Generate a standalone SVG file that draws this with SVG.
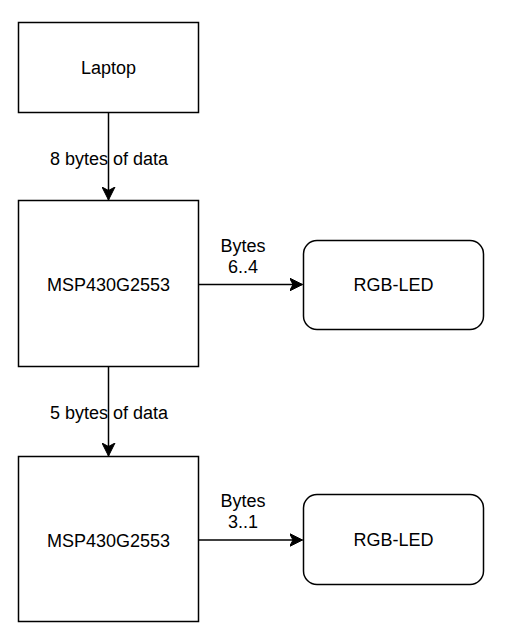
<svg xmlns="http://www.w3.org/2000/svg" width="514" height="635" viewBox="0 0 514 635">
<style>
.box{fill:#fff;stroke:#000;stroke-width:1.5}
.t{font-family:"Liberation Sans",Arial,sans-serif;font-size:18px;fill:#000;text-anchor:middle}
.ln{fill:none;stroke:#000;stroke-width:1.5}
</style>
<defs>
<marker id="arr" viewBox="0 0 14 14" refX="13" refY="7" markerWidth="14" markerHeight="14" markerUnits="userSpaceOnUse" orient="auto">
<path d="M13,7 L0,0.5 L3.5,7 L0,13.5 Z" fill="#000" stroke="#000" stroke-width="1"/>
</marker>
</defs>
<rect width="514" height="635" fill="#fff"/>
<g id="connectors">
<path class="ln" d="M108.5,112.5 L108.5,200" marker-end="url(#arr)"/>
<path class="ln" d="M198.5,284.5 L302.5,284.5" marker-end="url(#arr)"/>
<path class="ln" d="M108.5,366.5 L108.5,456" marker-end="url(#arr)"/>
<path class="ln" d="M198.5,540 L302.5,540" marker-end="url(#arr)"/>
<text class="t" x="109" y="164.5">8 bytes of data</text>
<text class="t" x="109" y="418.5">5 bytes of data</text>
<text class="t" x="243" y="251.5">Bytes</text>
<text class="t" x="243" y="273">6..4</text>
<text class="t" x="243" y="506.5">Bytes</text>
<text class="t" x="243" y="528">3..1</text>
</g>
<g id="laptop">
<rect class="box" x="18.5" y="22.5" width="180" height="90"/>
<text class="t" x="108.5" y="74">Laptop</text>
</g>
<g id="msp1">
<rect class="box" x="18.5" y="200.5" width="180" height="166"/>
<text class="t" x="108.5" y="290.5">MSP430G2553</text>
</g>
<g id="rgb1">
<rect class="box" x="303.5" y="240.5" width="180" height="89" rx="13.5" ry="13.5"/>
<text class="t" x="393.5" y="291">RGB-LED</text>
</g>
<g id="msp2">
<rect class="box" x="18.5" y="456.5" width="180" height="165"/>
<text class="t" x="108.5" y="546.5">MSP430G2553</text>
</g>
<g id="rgb2">
<rect class="box" x="303.5" y="494.5" width="180" height="90" rx="13.5" ry="13.5"/>
<text class="t" x="393.5" y="546">RGB-LED</text>
</g>
</svg>
